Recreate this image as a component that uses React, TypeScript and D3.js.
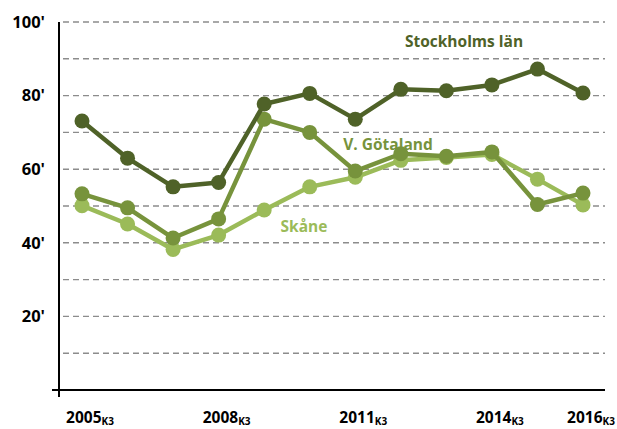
import * as d3 from "d3";

const years = [2005, 2006, 2007, 2008, 2009, 2010, 2011, 2012, 2013, 2014, 2015, 2016];
const tickYears = [2005, 2008, 2011, 2014, 2016];
const yTicks = [20, 40, 60, 80, 100];
const gridValues = [10, 20, 30, 40, 50, 60, 70, 80, 90, 100];

const stockholm = [73.1, 63.0, 55.2, 56.4, 77.7, 80.6, 73.6, 81.7, 81.3, 82.9, 87.2, 80.7];
const gotaland = [53.3, 49.5, 41.3, 46.5, 73.6, 70.0, 59.5, 64.2, 63.5, 64.7, 50.4, 53.5];
const skane = [50.1, 45.1, 38.2, 42.1, 48.9, 55.2, 57.8, 62.4, 63.2, 64.0, 57.3, 50.3];

const series = [
  { name: "Skåne", values: skane, color: "#9bbb59", lx: 304, ly: 227 },
  { name: "V. Götaland", values: gotaland, color: "#77933c", lx: 388, ly: 145 },
  { name: "Stockholms län", values: stockholm, color: "#4f6228", lx: 464, ly: 42 },
];

const W = 617;
const H = 429;
const margin = { top: 22, right: 12, bottom: 39, left: 59 };
const font = "'Open Sans', 'Liberation Sans', sans-serif";

export default function App() {
  const x = d3.scaleLinear().domain([2005, 2016]).range([82, 583]);
  const y = d3.scaleLinear().domain([0, 100]).range([H - margin.bottom, margin.top]);
  const line = d3
    .line<number>()
    .x((_, i) => x(years[i]))
    .y((d) => y(d));

  return (
    <svg
      width={W}
      height={H}
      style={{ position: "absolute", left: 0, top: 0, background: "#fff" }}
    >
      {gridValues.map((v) => (
        <line
          key={v}
          x1={margin.left + 4}
          x2={W - margin.right}
          y1={y(v)}
          y2={y(v)}
          stroke="#8c8c8c"
          strokeWidth={1.4}
          strokeDasharray="6,4"
        />
      ))}
      <line x1={margin.left} x2={margin.left} y1={y(100)} y2={y(0) + 7} stroke="#000" strokeWidth={2} />
      <line x1={margin.left - 7} x2={W - margin.right} y1={y(0)} y2={y(0)} stroke="#000" strokeWidth={2} />
      {yTicks.map((v) => (
        <text
          key={v}
          x={45}
          y={y(v)}
          dy="0.35em"
          textAnchor="end"
          fontFamily={font}
          fontWeight="bold"
          fontSize={16.5}
          fill="#000"
        >
          {v}'
        </text>
      ))}
      {tickYears.map((yr) => (
        <text
          key={yr}
          x={x(yr) + 8}
          y={423}
          textAnchor="middle"
          fontFamily={font}
          fontWeight="bold"
          fontSize={15.5}
          fill="#000"
        >
          {yr}
          <tspan fontSize={10} dy={2}>
            K3
          </tspan>
        </text>
      ))}
      {series.map((s) => (
        <g key={s.name}>
          <path d={line(s.values) ?? ""} fill="none" stroke={s.color} strokeWidth={4.5} strokeLinejoin="round" />
          {s.values.map((v, i) => (
            <circle key={i} cx={x(years[i])} cy={y(v)} r={7.5} fill={s.color} />
          ))}
          <text
            x={s.lx}
            y={s.ly}
            dy="0.35em"
            textAnchor="middle"
            fontFamily={font}
            fontWeight="bold"
            fontSize={15.5}
            fill={s.color}
          >
            {s.name}
          </text>
        </g>
      ))}
    </svg>
  );
}
